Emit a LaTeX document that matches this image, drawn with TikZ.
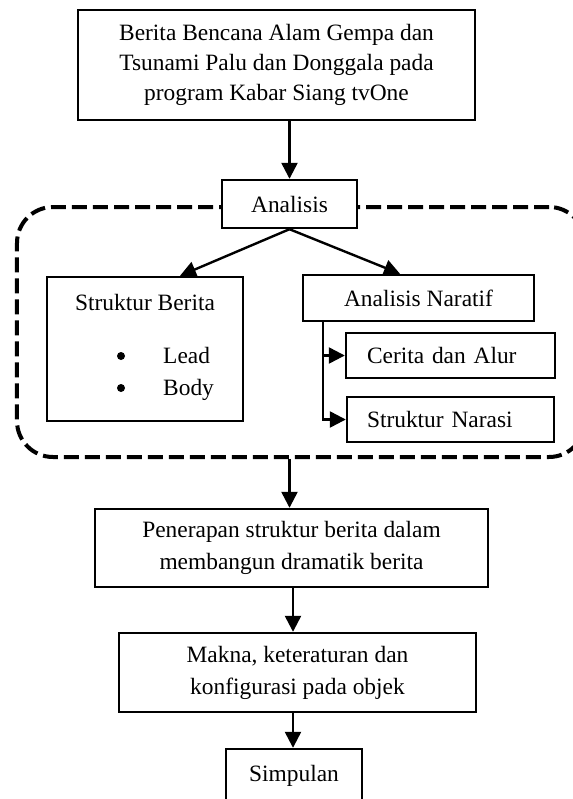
\documentclass[tikz,border=0pt]{standalone}
\usepackage{fontspec}
\setmainfont{Liberation Serif}
\usetikzlibrary{arrows.meta}
\begin{document}
\begin{tikzpicture}[x=1bp,y=-1bp,
  box/.style={draw, line width=2.4bp, fill=white, inner sep=0pt, align=center, font=\fontsize{23.5}{30}\selectfont},
  txt/.style={inner sep=0pt, font=\fontsize{23.5}{30}\selectfont},
  arr/.style={line width=2.4bp, -{Triangle[length=16bp,width=16bp]}},
  grpbox/.style={draw, line width=4bp, dash pattern=on 15bp off 6bp, rounded corners=36bp, inner sep=0pt},
  dot/.style={circle, fill, inner sep=0pt, minimum size=8bp}]
\clip (0,0) rectangle (573,799);
% dashed group
\node[grpbox, minimum width=568bp, minimum height=250bp] (grp) at (301,332) {};
% boxes
\node[box, minimum width=397bp, minimum height=110bp] (top) at (276.5,65) {Berita Bencana Alam Gempa dan\\Tsunami Palu dan Donggala pada\\program Kabar Siang tvOne};
\node[box, minimum width=135bp, minimum height=48bp] (ana) at (289.5,204) {Analisis};
\node[box, minimum width=196bp, minimum height=144bp] (sb) at (145,349) {};
\node[txt, anchor=base] (sbt) at (145,310) {Struktur Berita};
\node[dot] (d1) at (121,356) {};
\node[dot] (d2) at (121,388) {};
\node[txt, anchor=base west] (lead) at (163,363) {Lead};
\node[txt, anchor=base west] (body) at (163,395) {Body};
\node[box, minimum width=231bp, minimum height=46bp] (an) at (418.5,298) {Analisis Naratif};
\node[box, minimum height=45bp, inner xsep=21bp, text width=167bp, align=left] (ca) at (450.5,355.5) {\mbox{Cerita dan Alur}};
\node[box, minimum height=45bp, inner xsep=20bp, text width=167bp, align=left] (sn) at (450.5,419.5) {\mbox{Struktur Narasi}};
\node[box, minimum width=393bp, minimum height=78bp, font=\fontsize{23.5}{32}\selectfont] (pen) at (291.5,548) {Penerapan struktur berita dalam\\membangun dramatik berita};
\node[box, minimum width=357bp, minimum height=79bp, font=\fontsize{23.5}{32}\selectfont] (mak) at (297.5,672.5) {Makna, keteraturan dan\\konfigurasi pada objek};
\node[box, minimum width=136bp, minimum height=53bp] (sim) at (294,775.5) {Simpulan};
% connectors
\draw[arr] (top.south -| ana.north) -- (ana.north);
\draw[arr] (ana.south) -- ([xshift=35bp]sb.north);
\draw[arr] (ana.south) -- ([xshift=-18.5bp]an.north);
\coordinate (br) at ([xshift=21bp]an.south west);
\draw[arr] (br) |- (sn.west);
\draw[arr] (br |- ca.west) -- (ca.west);
\coordinate (db) at (grp.south -| ana.south);
\draw[arr] (db) -- (db |- pen.north);
\coordinate (p1) at ([xshift=1.5bp]pen.south);
\draw[arr] (p1) -- (p1 |- mak.north);
\coordinate (m1) at (sim.north |- mak.south);
\draw[arr] ([xshift=-1bp]m1) -- ([xshift=-1bp]sim.north);
\end{tikzpicture}
\end{document}
